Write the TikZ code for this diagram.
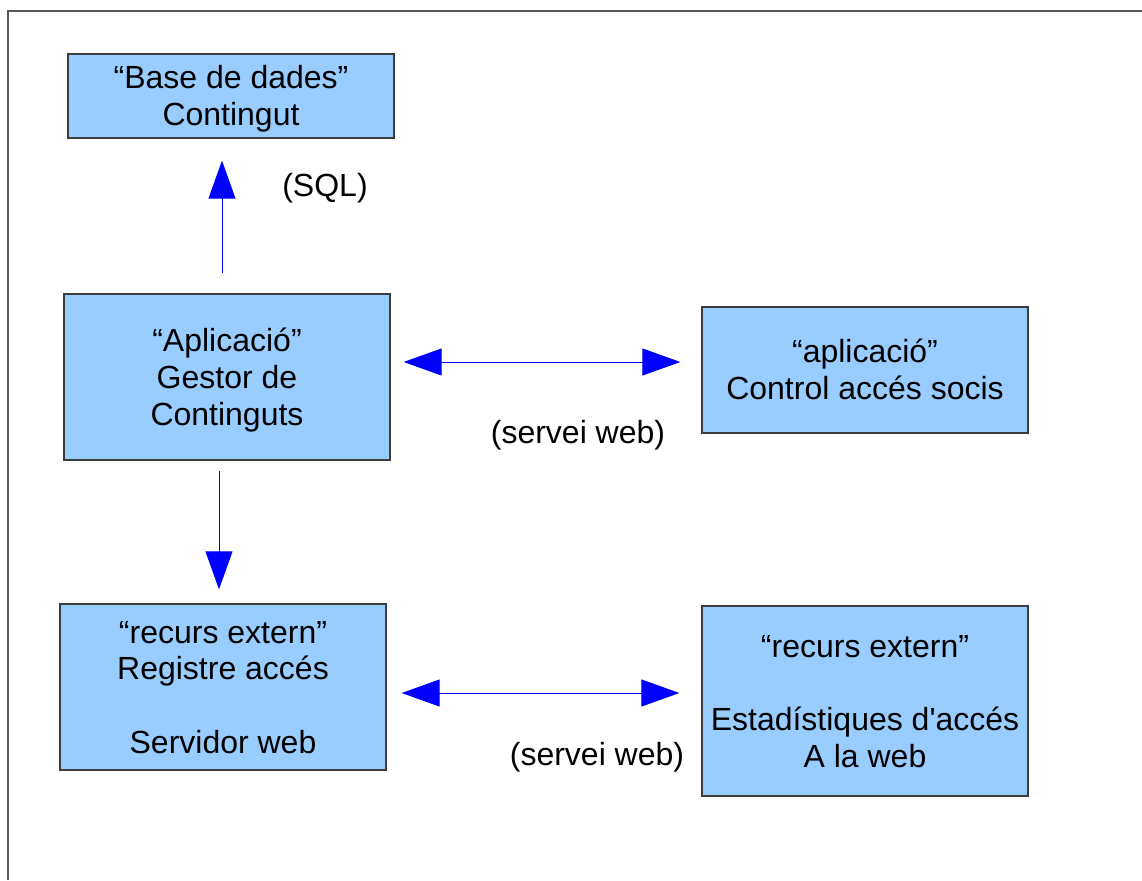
\documentclass[tikz,border=0pt]{standalone}
\usepackage{fontspec}
\newfontfamily\lsans{Liberation Sans}
\usetikzlibrary{arrows.meta}
\definecolor{boxfill}{HTML}{99CCFF}
\definecolor{boxline}{HTML}{3C3C3C}
\definecolor{frameline}{HTML}{5A5A5A}
\definecolor{arrblue}{HTML}{0000FF}
\newcommand\lstr{\rule[-7.2pt]{0pt}{36.8pt}}
\tikzset{
  txt/.style={font=\lsans\fontsize{32}{36.8}\selectfont, inner sep=0pt, align=center},
  box/.style={txt, draw=boxline, line width=1.3pt, fill=boxfill, minimum width=326pt},
  conn/.style={draw=arrblue, line width=1pt, -{Triangle[length=38pt,width=27pt]}},
  dconn/.style={draw=arrblue, line width=1pt, {Triangle[length=38pt,width=27pt]}-{Triangle[length=38pt,width=27pt]}}
}
\begin{document}
\begin{tikzpicture}[x=1pt,y=-1pt]
\useasboundingbox (0,0) rectangle (1142,880);
\draw[frameline, line width=2pt] (7.5,880) -- (7.5,11) -- (1142,11);

\node[box, minimum height=84pt] (db) at (231,96) {\lstr“Base de dades”\\\lstr Contingut};
\node[box, minimum height=166pt] (app) at (227,377) {\lstr“Aplicació”\\\lstr Gestor de\hspace*{0.278em}\\\lstr Continguts};
\node[box, minimum height=126pt] (ctl) at (865,370) {\lstr“aplicació”\\\lstr Control accés socis};
\node[box, minimum height=166pt] (reg) at (223,687) {\lstr“recurs extern”\\\lstr Registre accés\\\lstr\\\lstr Servidor web};
\node[box, minimum height=190pt] (est) at (865,701) {\lstr“recurs extern”\\\lstr\\\lstr Estadístiques d'accés\\\lstr A la web};

\node[txt] (sql) at (325,188) {(SQL)};
\node[txt] (sw1) at (578,435) {(servei web)};
\node[txt] (sw2) at (597,757) {(servei web)};

\draw[conn, shorten <=20pt, shorten >=22pt] ([xshift=-5pt]app.north) -- ([xshift=-9pt]db.south);
\draw[conn, shorten <=10pt, shorten >=14pt] ([xshift=-8pt]app.south) -- ([xshift=-4pt]reg.north);
\draw[dconn, shorten <=13pt, shorten >=21pt] ([yshift=15pt]app.east) -- ([yshift=8pt]ctl.west);
\draw[dconn, shorten <=15pt, shorten >=22pt] ([yshift=-6pt]reg.east) -- ([yshift=8pt]est.west);
\end{tikzpicture}
\end{document}
